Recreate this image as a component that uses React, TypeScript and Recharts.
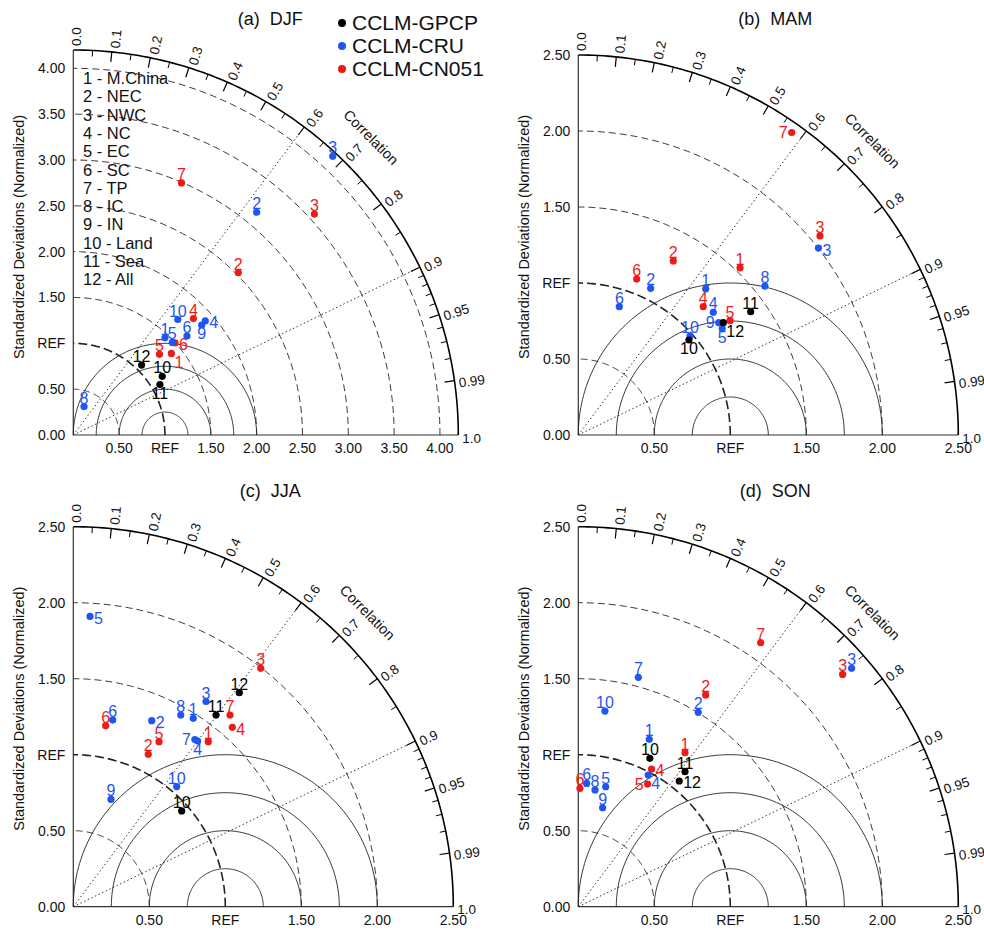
import React from 'react';
import { ScatterChart, Scatter, XAxis, YAxis, ReferenceLine } from 'recharts';

const FONT = '"Liberation Sans", Arial, Helvetica, sans-serif';

const SERIES_NAMES = ['CCLM-GPCP', 'CCLM-CRU', 'CCLM-CN051'];
const SERIES_COLORS = ['#000000', '#1f55f2', '#ee1a1a'];
const REGIONS = ['M.China', 'NEC', 'NWC', 'NC', 'EC', 'SC', 'TP', 'IC', 'IN', 'Land', 'Sea', 'All'];

// correlation scale on the outer arc
const CORR_LABELS = ['0.0', '0.1', '0.2', '0.3', '0.4', '0.5', '0.6', '0.7', '0.8', '0.9', '0.95', '0.99', '1.0'];
const CORR_MINOR = [0.05, 0.15, 0.25, 0.35, 0.45, 0.55, 0.65, 0.75, 0.85, 0.91, 0.92, 0.93, 0.94, 0.96, 0.97, 0.98];
const CORR_DOTTED = [0.6, 0.9];
const RMS_RADII = [0.25, 0.5, 0.75, 1];

type Pt = { id: number; x: number; y: number };

// (a) DJF  -- x / y are the two normalized std-dev axes
const DJF_GPCP: Pt[] = [
  { id: 10, x: 0.97, y: 0.64 },
  { id: 11, x: 0.945, y: 0.55 },
  { id: 12, x: 0.745, y: 0.763 },
];
const DJF_CRU: Pt[] = [
  { id: 1, x: 1.0, y: 1.06 },
  { id: 2, x: 2.0, y: 2.43 },
  { id: 3, x: 2.83, y: 3.04 },
  { id: 4, x: 1.44, y: 1.245 },
  { id: 5, x: 1.08, y: 1.01 },
  { id: 6, x: 1.24, y: 1.08 },
  { id: 8, x: 0.117, y: 0.31 },
  { id: 9, x: 1.4, y: 1.2 },
  { id: 10, x: 1.14, y: 1.26 },
];
const DJF_CN051: Pt[] = [
  { id: 1, x: 1.07, y: 0.89 },
  { id: 2, x: 1.8, y: 1.77 },
  { id: 3, x: 2.63, y: 2.41 },
  { id: 4, x: 1.31, y: 1.27 },
  { id: 5, x: 0.94, y: 0.88 },
  { id: 6, x: 1.11, y: 1.005 },
  { id: 7, x: 1.18, y: 2.75 },
];

// (b) MAM
const MAM_GPCP: Pt[] = [
  { id: 10, x: 0.728, y: 0.625 },
  { id: 11, x: 1.134, y: 0.811 },
  { id: 12, x: 0.954, y: 0.739 },
];
const MAM_CRU: Pt[] = [
  { id: 1, x: 0.838, y: 0.962 },
  { id: 2, x: 0.476, y: 0.965 },
  { id: 3, x: 1.58, y: 1.23 },
  { id: 4, x: 0.888, y: 0.807 },
  { id: 5, x: 0.947, y: 0.7 },
  { id: 6, x: 0.27, y: 0.844 },
  { id: 8, x: 1.228, y: 0.98 },
  { id: 9, x: 0.924, y: 0.739 },
  { id: 10, x: 0.735, y: 0.651 },
];
const MAM_CN051: Pt[] = [
  { id: 1, x: 1.064, y: 1.1 },
  { id: 2, x: 0.625, y: 1.145 },
  { id: 3, x: 1.59, y: 1.31 },
  { id: 4, x: 0.822, y: 0.844 },
  { id: 5, x: 0.998, y: 0.752 },
  { id: 6, x: 0.384, y: 1.026 },
  { id: 7, x: 1.404, y: 1.99 },
];

// (c) JJA
const JJA_GPCP: Pt[] = [
  { id: 10, x: 0.713, y: 0.63 },
  { id: 11, x: 0.939, y: 1.261 },
  { id: 12, x: 1.092, y: 1.408 },
];
const JJA_CRU: Pt[] = [
  { id: 1, x: 0.789, y: 1.239 },
  { id: 2, x: 0.516, y: 1.224 },
  { id: 3, x: 0.873, y: 1.35 },
  { id: 4, x: 0.818, y: 1.09 },
  { id: 5, x: 0.11, y: 1.91 },
  { id: 6, x: 0.259, y: 1.228 },
  { id: 7, x: 0.8, y: 1.1 },
  { id: 8, x: 0.707, y: 1.261 },
  { id: 9, x: 0.248, y: 0.706 },
  { id: 10, x: 0.68, y: 0.79 },
];
const JJA_CN051: Pt[] = [
  { id: 1, x: 0.888, y: 1.086 },
  { id: 2, x: 0.493, y: 1.003 },
  { id: 3, x: 1.233, y: 1.568 },
  { id: 4, x: 1.046, y: 1.18 },
  { id: 5, x: 0.564, y: 1.086 },
  { id: 6, x: 0.213, y: 1.191 },
  { id: 7, x: 1.031, y: 1.261 },
];

// (d) SON
const SON_GPCP: Pt[] = [
  { id: 10, x: 0.471, y: 0.976 },
  { id: 11, x: 0.702, y: 0.888 },
  { id: 12, x: 0.664, y: 0.827 },
];
const SON_CRU: Pt[] = [
  { id: 1, x: 0.467, y: 1.101 },
  { id: 2, x: 0.789, y: 1.279 },
  { id: 3, x: 1.798, y: 1.568 },
  { id: 4, x: 0.46, y: 0.866 },
  { id: 5, x: 0.18, y: 0.789 },
  { id: 6, x: 0.055, y: 0.811 },
  { id: 7, x: 0.395, y: 1.509 },
  { id: 8, x: 0.11, y: 0.768 },
  { id: 9, x: 0.16, y: 0.651 },
  { id: 10, x: 0.175, y: 1.287 },
];
const SON_CN051: Pt[] = [
  { id: 1, x: 0.702, y: 1.013 },
  { id: 2, x: 0.838, y: 1.393 },
  { id: 3, x: 1.739, y: 1.528 },
  { id: 4, x: 0.482, y: 0.906 },
  { id: 5, x: 0.456, y: 0.807 },
  { id: 6, x: 0.011, y: 0.779 },
  { id: 7, x: 1.2, y: 1.737 },
];

// where the number sits next to its dot (default: on top)
const LABEL_SIDE: Record<string, string> = {
  'a-1-4': 'r', 'a-1-9': 'b', 'a-2-6': 'r', 'a-2-1': 'br', 'a-0-11': 'b',
  'b-2-7': 'l', 'b-1-3': 'r', 'b-0-12': 'br', 'b-1-9': 'l', 'b-1-5': 'b', 'b-0-10': 'b',
  'c-1-5': 'r', 'c-2-4': 'r', 'c-1-2': 'r', 'c-1-7': 'l', 'c-1-4': 'b',
  'd-2-4': 'r', 'd-1-4': 'br', 'd-0-12': 'r', 'd-2-5': 'l',
};

const PANELS = [
  {
    key: 'a', title: '(a)  DJF', left: 0, top: 0, width: 492, height: 466,
    margin: { top: 50, right: 33.7, bottom: 6, left: 13.3 }, plot: 385, rMax: 4.2,
    stdTicks: [0, 0.5, 1, 1.5, 2, 2.5, 3, 3.5, 4], series: [DJF_GPCP, DJF_CRU, DJF_CN051],
  },
  {
    key: 'b', title: '(b)  MAM', left: 492, top: 0, width: 492, height: 466,
    margin: { top: 55, right: 25.7, bottom: 6, left: 26.3 }, plot: 380, rMax: 2.5,
    stdTicks: [0, 0.5, 1, 1.5, 2, 2.5], series: [MAM_GPCP, MAM_CRU, MAM_CN051],
  },
  {
    key: 'c', title: '(c)  JJA', left: 0, top: 466, width: 492, height: 467,
    margin: { top: 60.7, right: 38.7, bottom: 1.3, left: 13.3 }, plot: 380, rMax: 2.5,
    stdTicks: [0, 0.5, 1, 1.5, 2, 2.5], series: [JJA_GPCP, JJA_CRU, JJA_CN051],
  },
  {
    key: 'd', title: '(d)  SON', left: 492, top: 466, width: 492, height: 467,
    margin: { top: 60.7, right: 25.7, bottom: 1.3, left: 26.3 }, plot: 380, rMax: 2.5,
    stdTicks: [0, 0.5, 1, 1.5, 2, 2.5], series: [SON_GPCP, SON_CRU, SON_CN051],
  },
];

const Y_AXIS_W = 60;
const fmt = (v: number) => (Math.abs(v - 1) < 1e-9 ? 'REF' : v.toFixed(2));
const noShape = () => <g />;

function TaylorPanel({ p }: { p: (typeof PANELS)[number] }) {
  const R = p.rMax;
  const u = R / p.plot; // data units per pixel
  const clamp = (v: number) => Math.min(R, Math.max(0, v));
  const arc = (cx: number, r: number, a0: number, a1: number) =>
    Array.from({ length: 121 }, (_, i) => {
      const a = a0 + ((a1 - a0) * i) / 120;
      return { x: clamp(cx + r * Math.cos(a)), y: clamp(r * Math.sin(a)) };
    });
  const stdArcs = p.stdTicks.filter((s) => s > 0 && s < R);
  const corrPts = CORR_LABELS.map((l) => {
    const t = Math.acos(parseFloat(l));
    return { x: clamp(R * Math.cos(t)), y: clamp(R * Math.sin(t)), label: l, deg: (t * 180) / Math.PI };
  });
  const tick = (c: number, len: number) => {
    const t = Math.acos(c);
    return [
      { x: (R - len * u) * Math.cos(t), y: (R - len * u) * Math.sin(t) },
      { x: R * Math.cos(t), y: R * Math.sin(t) },
    ];
  };

  const corrLabel = (props: any) => {
    const { cx, cy, payload } = props;
    return (
      <text
        transform={`translate(${cx},${cy}) rotate(${-payload.deg})`}
        x={4}
        y={3}
        dominantBaseline="central"
        fontSize={13.5}
        fontFamily={FONT}
        fill="#111"
      >
        {payload.label}
      </text>
    );
  };
  const corrTitle = (props: any) => {
    const { cx, cy } = props;
    return (
      <text
        transform={`translate(${cx + 36 * Math.SQRT1_2},${cy - 36 * Math.SQRT1_2}) rotate(45)`}
        textAnchor="middle"
        dominantBaseline="central"
        fontSize={14.5}
        fontFamily={FONT}
        fill="#111"
      >
        Correlation
      </text>
    );
  };
  const dot = (si: number) => (props: any) => {
    const { cx, cy, payload } = props;
    const color = SERIES_COLORS[si];
    const side = LABEL_SIDE[`${p.key}-${si}-${payload.id}`] || 't';
    let tx = cx, ty = cy - 3, anchor: any = 'middle', base: any = 'auto';
    if (side === 'r') { tx = cx + 4; ty = cy + 2; anchor = 'start'; base = 'central'; }
    if (side === 'l') { tx = cx - 4; ty = cy; anchor = 'end'; base = 'central'; }
    if (side === 'b') { tx = cx; ty = cy + 3; base = 'hanging'; }
    if (side === 'br') { tx = cx + 3; ty = cy + 3; anchor = 'start'; base = 'hanging'; }
    return (
      <g>
        <circle cx={cx} cy={cy} r={3.6} fill={color} />
        <text x={tx} y={ty} textAnchor={anchor} dominantBaseline={base} fontSize={16} fontFamily={FONT} fill={color}>
          {payload.id}
        </text>
      </g>
    );
  };

  return (
    <div style={{ position: 'absolute', left: p.left, top: p.top }}>
      <ScatterChart width={p.width} height={p.height} margin={p.margin}>
        <XAxis
          type="number"
          dataKey="x"
          domain={[0, R]}
          ticks={p.stdTicks.filter((s) => s > 0)}
          interval={0}
          tickFormatter={fmt}
          tickLine={false}
          axisLine={{ stroke: '#333', strokeWidth: 1.2 }}
          tick={{ fontSize: 14, fill: '#111', fontFamily: FONT }}
          height={25}
        />
        <YAxis
          type="number"
          dataKey="y"
          domain={[0, R]}
          ticks={p.stdTicks}
          interval={0}
          tickFormatter={fmt}
          tickLine={false}
          axisLine={{ stroke: '#333', strokeWidth: 1.2 }}
          tick={{ fontSize: 14, fill: '#111', fontFamily: FONT }}
          width={Y_AXIS_W}
        />
        {stdArcs.map((s) => (
          <Scatter
            key={`std-${s}`}
            data={arc(0, s, 0, Math.PI / 2)}
            line={{
              stroke: '#222',
              strokeWidth: s === 1 ? 1.6 : 0.9,
              strokeDasharray: s === 1 ? '9 4' : '7 4',
            }}
            shape={noShape}
            isAnimationActive={false}
          />
        ))}
        {RMS_RADII.map((r) => (
          <Scatter
            key={`rms-${r}`}
            data={arc(1, r, 0, Math.PI)}
            line={{ stroke: '#222', strokeWidth: 0.9 }}
            shape={noShape}
            isAnimationActive={false}
          />
        ))}
        <Scatter
          data={arc(0, R, 0, Math.PI / 2)}
          line={{ stroke: '#000', strokeWidth: 1.6 }}
          shape={noShape}
          isAnimationActive={false}
        />
        {CORR_DOTTED.map((c) => (
          <ReferenceLine
            key={`dot-${c}`}
            segment={[{ x: 0, y: 0 }, { x: R * c, y: R * Math.sqrt(1 - c * c) }]}
            stroke="#333"
            strokeWidth={1}
            strokeDasharray="1.5 2.5"
            ifOverflow="visible"
          />
        ))}
        {CORR_LABELS.filter((l) => l !== '0.0' && l !== '1.0').map((l) => (
          <ReferenceLine key={`mt-${l}`} segment={tick(parseFloat(l), 10)} stroke="#000" strokeWidth={1.2} ifOverflow="visible" />
        ))}
        {CORR_MINOR.map((c) => (
          <ReferenceLine key={`nt-${c}`} segment={tick(c, 6)} stroke="#000" strokeWidth={1} ifOverflow="visible" />
        ))}
        <Scatter data={corrPts} shape={corrLabel} isAnimationActive={false} />
        <Scatter data={[{ x: R * Math.SQRT1_2, y: R * Math.SQRT1_2 }]} shape={corrTitle} isAnimationActive={false} />
        <Scatter data={p.series[2]} shape={dot(2)} isAnimationActive={false} />
        <Scatter data={p.series[1]} shape={dot(1)} isAnimationActive={false} />
        <Scatter data={p.series[0]} shape={dot(0)} isAnimationActive={false} />
      </ScatterChart>
    </div>
  );
}

export default function App() {
  return (
    <div style={{ position: 'absolute', left: 0, top: 0, width: 984, height: 933, background: '#fff' }}>
      {PANELS.map((p) => (
        <TaylorPanel key={p.key} p={p} />
      ))}
      <svg width={984} height={933} style={{ position: 'absolute', left: 0, top: 0, pointerEvents: 'none' }}>
        {PANELS.map((p) => {
          const ox = p.left + p.margin.left + Y_AXIS_W;
          const oy = p.top + p.margin.top + p.plot;
          return (
            <g key={p.key} fontFamily={FONT} fill="#111">
              <text x={ox + 197} y={oy - 410} textAnchor="middle" fontSize={18} style={{ whiteSpace: 'pre' }}>
                {p.title}
              </text>
              <text
                transform={`translate(${ox - 54},${oy - 198}) rotate(-90)`}
                textAnchor="middle"
                dominantBaseline="central"
                fontSize={14.5}
              >
                Standardized Deviations (Normalized)
              </text>
            </g>
          );
        })}
        <g fontFamily={FONT}>
          {SERIES_NAMES.map((n, i) => (
            <g key={n}>
              <circle cx={342} cy={23 + i * 23} r={4} fill={SERIES_COLORS[i]} />
              <text x={352} y={30 + i * 23} fontSize={21} fill="#111">
                {n}
              </text>
            </g>
          ))}
          {REGIONS.map((r, i) => (
            <text key={r} x={83} y={84 + i * 18.3} fontSize={16.5} fill="#111">
              {`${i + 1} - ${r}`}
            </text>
          ))}
        </g>
      </svg>
    </div>
  );
}
